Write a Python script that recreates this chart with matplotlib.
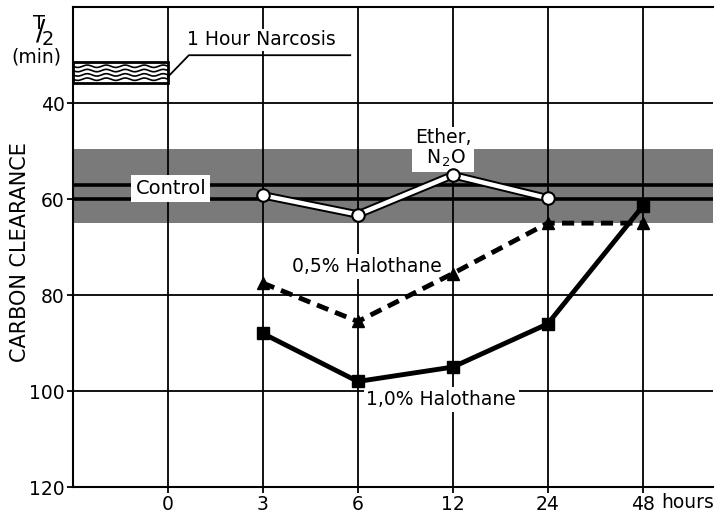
import numpy as np
import matplotlib.pyplot as plt
from matplotlib.patches import Rectangle

# data
hours = ["0", "3", "6", "12", "24", "48"]
ether_n2o = [59.2, 63.2, 55.0, 59.8]        # at 3, 6, 12, 24 h
halo_05 = [77.5, 85.5, 75.5, 65.0, 65.0]    # at 3, 6, 12, 24, 48 h
halo_10 = [88.0, 98.0, 95.0, 86.0, 61.5]    # at 3, 6, 12, 24, 48 h
control_band = (49.5, 65.0)
control_lines = [57.0, 60.0]
narcosis_box = (31.5, 35.8)
yticks = [40, 60, 80, 100, 120]

plt.rcParams['font.family'] = ['DejaVu Sans']
plt.rcParams['font.size'] = 13
plt.rcParams['mathtext.fontset'] = 'dejavusans'

fig = plt.figure(figsize=(7.23, 5.17), dpi=100)
ax = fig.add_axes([0.101, 0.058, 0.885, 0.928])

x = np.arange(len(hours))
ax.set_xlim(-1, 5.74)
ax.set_ylim(120, 20)

# grid
for xi in x:
    ax.axvline(xi, color='k', lw=1.3, zorder=1)
for yv in yticks[:-1]:
    ax.axhline(yv, color='k', lw=1.3, zorder=1)

# control band
ax.axhspan(*control_band, color='0.48', lw=0, zorder=0.5)
for yv in control_lines:
    ax.axhline(yv, color='k', lw=2.6, zorder=1.5)

# narcosis box with wavy lines
ax.add_patch(Rectangle((-1, narcosis_box[0]), 1, narcosis_box[1] - narcosis_box[0],
                       fc='white', ec='k', lw=2, zorder=3))
xw = np.linspace(-1, 0, 200)
for base in np.linspace(narcosis_box[0] + 0.8, narcosis_box[1] - 0.8, 4):
    ax.plot(xw, base + 0.25 * np.sin(xw * 2 * np.pi * 5), color='k', lw=1.2, zorder=3)
ax.plot([0, 0.22, 1.92], [34.5, 30, 30], color='k', lw=1.3, zorder=3)
ax.text(0.2, 28.8, "1 Hour Narcosis", ha='left', va='bottom', fontsize=13.5,
        bbox=dict(fc='white', ec='none', pad=1), zorder=2)

# series
ax.plot(x[1:5], ether_n2o, color='k', lw=6, zorder=4, solid_capstyle='round')
ax.plot(x[1:5], ether_n2o, color='white', lw=3.2, zorder=5, marker='o', ms=9,
        mfc='white', mec='k', mew=1.5)
ax.plot(x[1:], halo_05, color='k', lw=3.5, ls=(0, (2.5, 1.5)), marker='^', ms=9, zorder=4)
ax.plot(x[1:], halo_10, color='k', lw=3.5, marker='s', ms=8, zorder=4)

# labels
ax.text(0.03, 57.8, "Control", ha='center', va='center', fontsize=14,
        bbox=dict(fc='white', ec='none', pad=3), zorder=3)
ax.text(2.9, 53.8, "Ether,\n N$_2$O", ha='center', va='bottom', fontsize=13.5,
        linespacing=1.05, bbox=dict(fc='white', ec='none', pad=2), zorder=3)
ax.text(2.1, 74.0, "0,5% Halothane", ha='center', va='center', fontsize=13.5,
        bbox=dict(fc='white', ec='none', pad=2), zorder=3)
ax.text(2.88, 101.7, "1,0% Halothane", ha='center', va='center', fontsize=13.5,
        bbox=dict(fc='white', ec='none', pad=2), zorder=3)

# axes styling
ax.set_xticks(x)
ax.set_xticklabels(hours)
ax.text(5.2, -0.0125, "hours", transform=ax.get_xaxis_transform(), ha='left', va='top', fontsize=13.5)
ax.set_yticks(yticks)
ax.tick_params(axis='both', direction='out', length=4, width=1.3, labelsize=13.5, pad=2)
ax.spines['right'].set_visible(False)
for s in ['left', 'bottom', 'top']:
    ax.spines[s].set_linewidth(1.5)

fig.text(0.027, 0.513, "CARBON CLEARANCE", rotation=90, ha='center', va='center', fontsize=15)
fig.text(43 / 723, 1 - 31 / 517, r"$^{\mathrm{T}}\!\!/\!_{\mathrm{2}}$", ha='center', va='center', fontsize=20)
fig.text(36 / 723, 1 - 57 / 517, "(min)", ha='center', va='center', fontsize=13.5)

fig.savefig('out.png', dpi=100)
